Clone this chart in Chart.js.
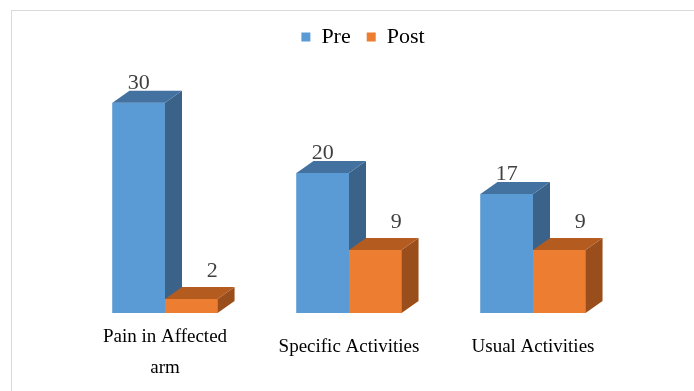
<!DOCTYPE html>
<html>
<head>
<meta charset="utf-8">
<script src="https://cdn.jsdelivr.net/npm/chart.js@4.4.0/dist/chart.umd.min.js"></script>
<style>
  html, body { margin: 0; padding: 0; background: #fff; overflow: hidden; }
  #wrap { position: relative; width: 694px; height: 391px; }
  #frame { position: absolute; left: 11px; top: 10px; width: 700px; height: 400px; border: 1px solid #d9d9d9; }
  canvas { position: absolute; left: 0; top: 0; }
</style>
</head>
<body>
<div id="wrap">
  <div id="frame"></div>
  <canvas id="chart" width="694" height="391"></canvas>
</div>
<script>
// chart data
const categories = [['Pain in Affected', 'arm'], 'Specific Activities', 'Usual Activities'];
const preValues = [30, 20, 17];
const postValues = [2, 9, 9];
const seriesNames = ['Pre', 'Post'];

const SERIF = "'Liberation Serif', 'Times New Roman', serif";
const DX = 17, DY = 12; // depth of the fake 3d faces

const faceColors = [
  { front: '#5b9bd5', top: '#4472a0', side: '#3b6289' },
  { front: '#ed7d31', top: '#b45b20', side: '#9a4e1b' }
];

// draws the side / top faces so the bars look like Excel 3d columns
const bars3d = {
  id: 'bars3d',
  afterDatasetsDraw(chart) {
    const ctx = chart.ctx;
    const metas = [chart.getDatasetMeta(0), chart.getDatasetMeta(1)];
    ctx.save();
    for (let i = 0; i < categories.length; i++) {
      metas.forEach((meta, d) => {
        const { x, y, base, width } = meta.data[i].getProps(['x', 'y', 'base', 'width'], true);
        const l = x - width / 2, r = x + width / 2;
        const c = faceColors[d];
        ctx.fillStyle = c.front;
        ctx.fillRect(l, y, width, base - y);
        ctx.fillStyle = c.side;
        ctx.beginPath();
        ctx.moveTo(r, y); ctx.lineTo(r + DX, y - DY); ctx.lineTo(r + DX, base - DY); ctx.lineTo(r, base);
        ctx.closePath(); ctx.fill();
        ctx.fillStyle = c.top;
        ctx.beginPath();
        ctx.moveTo(l, y); ctx.lineTo(l + DX, y - DY); ctx.lineTo(r + DX, y - DY); ctx.lineTo(r, y);
        ctx.closePath(); ctx.fill();
      });
    }
    // value labels
    ctx.font = '22px ' + SERIF;
    ctx.fillStyle = '#404040';
    ctx.textAlign = 'center';
    ctx.textBaseline = 'middle';
    metas.forEach((meta, d) => {
      const values = chart.data.datasets[d].data;
      meta.data.forEach((bar, i) => {
        const { x, y } = bar.getProps(['x', 'y'], true);
        if (d === 0) ctx.fillText(String(values[i]), x, y - 20);
        else ctx.fillText(String(values[i]), x + 21, y - 28);
      });
    });
    ctx.restore();
  }
};

new Chart(document.getElementById('chart'), {
  type: 'bar',
  data: {
    labels: categories,
    datasets: [
      { label: seriesNames[0], data: preValues, backgroundColor: faceColors[0].front },
      { label: seriesNames[1], data: postValues, backgroundColor: faceColors[1].front }
    ]
  },
  options: {
    responsive: false,
    animation: false,
    layout: { padding: { top: 10, left: 73, right: 41, bottom: 0 } },
    datasets: { bar: { categoryPercentage: 0.571, barPercentage: 1 } },
    plugins: {
      legend: {
        position: 'top',
        labels: {
          boxWidth: 9,
          boxHeight: 9,
          padding: 16,
          color: '#000',
          font: { family: SERIF, size: 22 }
        }
      },
      tooltip: { enabled: false }
    },
    scales: {
      x: {
        grid: { display: false },
        border: { display: false },
        ticks: {
          padding: 1,
          color: '#000',
          maxRotation: 0,
          autoSkip: false,
          font: (c) => ({
            family: SERIF,
            size: 19,
            lineHeight: Array.isArray(categories[c.index]) ? 1.632 : 2.684
          })
        },
        afterFit: (s) => { s.height = 78; }
      },
      y: {
        position: 'right',
        min: 0,
        max: 36.4,
        grid: { display: false },
        border: { display: false },
        ticks: { display: false },
        afterFit: (s) => { s.width = 28; }
      }
    }
  },
  plugins: [bars3d]
});
</script>
</body>
</html>
